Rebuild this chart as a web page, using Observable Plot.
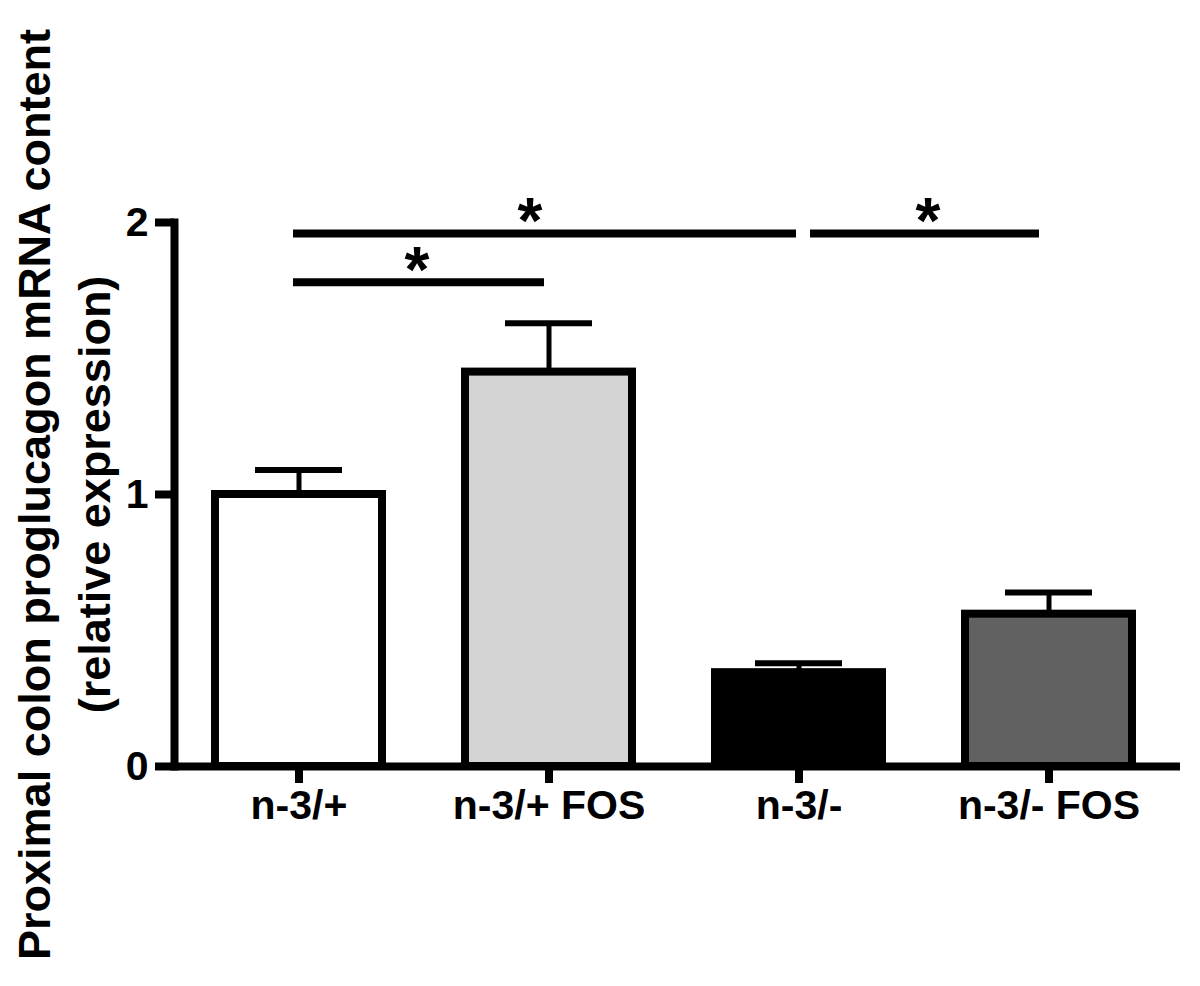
<!DOCTYPE html>
<html><head><meta charset="utf-8">
<script src="https://cdn.jsdelivr.net/npm/d3@7"></script>
<script src="https://cdn.jsdelivr.net/npm/@observablehq/plot@0.6"></script>
<style>body{margin:0;background:#fff;} #chart svg{display:block;}</style>
</head><body><div id="chart"></div>
<script>
const groups = ["n-3/+", "n-3/+ FOS", "n-3/-", "n-3/- FOS"];
const means = [1.0, 1.45, 0.345, 0.56];
const sems = [0.09, 0.18, 0.035, 0.08];
const fills = ["#ffffff", "#d4d4d4", "#000000", "#616161"];
const yTicks = [0, 1, 2];
const yLabel = "Proximal colon proglucagon mRNA content\n(relative expression)";
const sigFrom = ["n-3/+", "n-3/-", "n-3/+"];
const sigTo = ["n-3/-", "n-3/- FOS", "n-3/+ FOS"];
const sigY = [1.96, 1.96, 1.78];
const sigText = ["*", "*", "*"];

const font = "'Liberation Sans', Arial, Helvetica, sans-serif";
const bars = groups.map((g, i) => ({group: g, mean: means[i], hi: means[i] + sems[i], fill: fills[i]}));
const brackets = sigFrom.map((f, i) => ({from: f, to: sigTo[i], y: sigY[i], text: sigText[i]}));
// styling: per-bracket insets (px) and star offsets
const bracketInsets = [[78, 86], [95, 93], [78, 88]];
const starAt = ["n-3/+ FOS", "n-3/-", "n-3/+"];
const starDx = [-19, 129, 118];

const marks = [
  Plot.barY(bars, {x: "group", y: "mean", fill: "fill", stroke: "#000", strokeWidth: 8}),
  Plot.ruleX(bars, {x: "group", y1: "mean", y2: "hi", stroke: "#000", strokeWidth: 5}),
  Plot.tickY(bars, {x: "group", y: "hi", stroke: "#000", strokeWidth: 6, insetLeft: 40, insetRight: 40}),
  Plot.ruleY([0], {stroke: "#000", strokeWidth: 8}),
  Plot.frame({anchor: "left", stroke: "#000", strokeWidth: 8, strokeLinecap: "square"}),
  Plot.axisY({ticks: yTicks, tickSize: 19, tickPadding: 7, strokeWidth: 8, label: null, tickFormat: d3.format("d")}),
  Plot.axisX({tickSize: 17, tickPadding: 6, strokeWidth: 8, label: null}),
  ...brackets.map((b, i) => Plot.ruleY([b], {x1: "from", x2: "to", y: "y", stroke: "#000", strokeWidth: 8, insetLeft: bracketInsets[i][0], insetRight: bracketInsets[i][1]})),
  ...brackets.map((b, i) => Plot.text([b], {x: () => starAt[i], y: "y", text: "text", dx: starDx[i], dy: -11, fontSize: 64, fontWeight: "bold", lineAnchor: "middle"})),
  Plot.text([yLabel], {text: d => d, frameAnchor: "left", rotate: -90, dx: -114, fontSize: 45, fontWeight: "bold", lineHeight: 1.33, textAnchor: "middle", lineAnchor: "middle"})
];

const chart = Plot.plot({
  width: 1200,
  height: 986,
  marginTop: 222,
  marginBottom: 220,
  marginLeft: 174,
  marginRight: 20,
  style: {fontFamily: font, fontWeight: "bold", fontSize: "41px", color: "#000", background: "#fff", overflow: "visible"},
  x: {domain: groups, paddingInner: 0.33, paddingOuter: 0.177, align: 0.466},
  y: {domain: [0, 2]},
  marks
});
document.getElementById("chart").appendChild(chart);
</script>
</body></html>
